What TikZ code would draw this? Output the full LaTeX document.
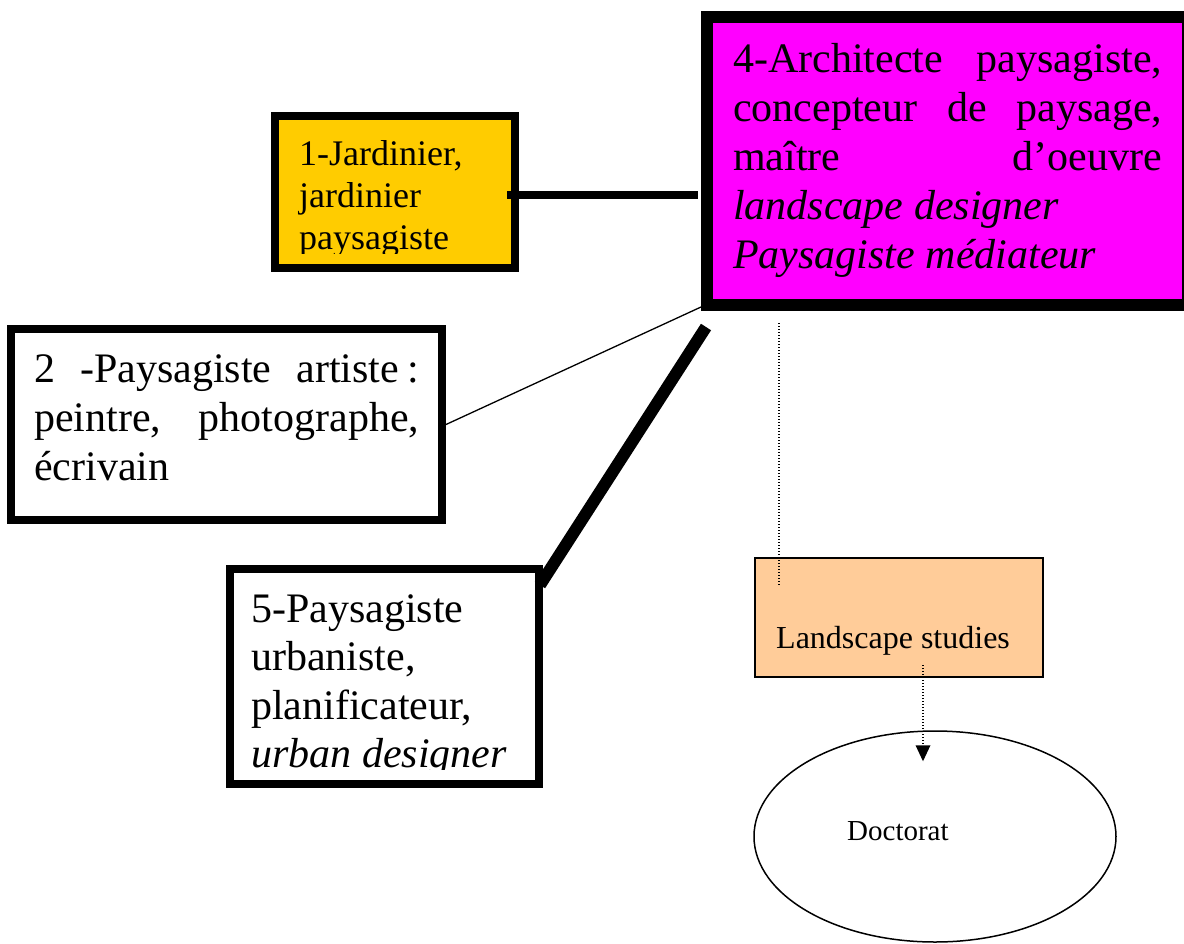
\documentclass[tikz,border=0pt]{standalone}
\usepackage{fontspec}
\setmainfont{Liberation Serif}
\usetikzlibrary{shapes.geometric,arrows.meta,calc}

\definecolor{boxgold}{HTML}{FFCC00}
\definecolor{boxmagenta}{HTML}{FF00FF}
\definecolor{boxpeach}{HTML}{FFCC99}

% a block of lines whose reference point is the first baseline
\newcommand\boxlines[2]{\vtop{\hsize=#1\parindent=0pt\relax #2}}

\tikzset{
  frame/.style={draw=black, rectangle, inner sep=0pt},
  label text/.style={anchor=base west, inner sep=0pt, align=left},
  big text/.style={label text, font=\fontsize{42}{49}\selectfont},
  mid text/.style={label text, font=\fontsize{36}{42}\selectfont},
  link heavy/.style={line width=#1, line cap=butt},
  link thin/.style={line width=1.3pt},
  link dotted/.style={line width=1.6pt, dash pattern=on 1.4pt off 1.6pt},
}

\begin{document}
\begin{tikzpicture}[x=1pt, y=-1pt]
\useasboundingbox (0,0) rectangle (1184,943);

% ---- boxes ----
\node[frame, line width=8pt, fill=boxgold, minimum width=240pt, minimum height=152pt]
  (a1) at (395,192) {};
\node[frame, line width=12pt, fill=boxmagenta, minimum width=481pt, minimum height=288pt]
  (a4) at (947.5,161) {};
\node[frame, line width=8pt, fill=white, minimum width=431pt, minimum height=191pt]
  (a2) at (226.5,424.5) {};
\node[frame, line width=8pt, fill=white, minimum width=309pt, minimum height=215pt]
  (a5) at (384.5,676.5) {};
\node[frame, line width=2pt, fill=boxpeach, minimum width=288pt, minimum height=119pt]
  (ls) at (899,617.5) {};
\node[draw=black, ellipse, line width=1.5pt, inner sep=0pt, minimum width=362pt, minimum height=211pt]
  (doc) at (935,836.5) {};

% ---- texts ----
\begin{scope}
  \clip (279,120) rectangle (511,253);
  \node[mid text] (t1) at (299,165) {\boxlines{200pt}{%
    \hbox{1-Jardinier,}\hbox{jardinier}\hbox{paysagiste}}};
\end{scope}

\node[big text] (t4) at (733,72) {\boxlines{429pt}{%
  \hbox to\hsize{4-Architecte\hfill paysagiste,}%
  \hbox to\hsize{concepteur\hfill de\hfill paysage,}%
  \hbox to\hsize{maître\hfill d’oeuvre}%
  \hbox{\itshape landscape designer}%
  \hbox{\itshape Paysagiste médiateur}}};

\node[big text] (t2) at (34,382) {\boxlines{385pt}{%
  \hbox to\hsize{2\hfill -Paysagiste\hfill artiste\kern0.2em:}%
  \hbox to\hsize{peintre,\hfill photographe,}%
  \hbox{écrivain}}};

\begin{scope}
  \clip (234,573) rectangle (535,769);
  \node[big text, font=\fontsize{42}{48.5}\selectfont] (t5) at (251,622) {\boxlines{280pt}{%
    \hbox{5-Paysagiste}\hbox{urbaniste,}\hbox{planificateur,}%
    \hbox{\itshape urban designer}}};
\end{scope}

\node[label text, font=\fontsize{32}{37}\selectfont] (tls) at (776,648) {Landscape studies};
\node[label text, font=\fontsize{29}{34}\selectfont] (tdoc) at (847,840) {Doctorat};

% ---- connectors ----
\draw[link heavy=8pt] ($(a1.east)+(-12,3)$) -- ($(a4.west)+(-3,34)$);
\draw[link thin] (a2.east) -- ($(a4.south west)+(0,-4)$);
\draw[link heavy=12pt] ($(a4.south west)+(5,16)$) -- ($(a5.north east)+(-3,20)$);
\draw[link dotted] ($(a4.south west)+(78,12)$) -- ($(ls.north west)+(25,28)$);
\draw[link dotted, -{Triangle[length=16pt, width=15pt, line width=0pt, sep=0pt]}]
  ($(ls.south)+(24,-13)$) -- ($(doc.north)+(-12,31)$);

\end{tikzpicture}
\end{document}
